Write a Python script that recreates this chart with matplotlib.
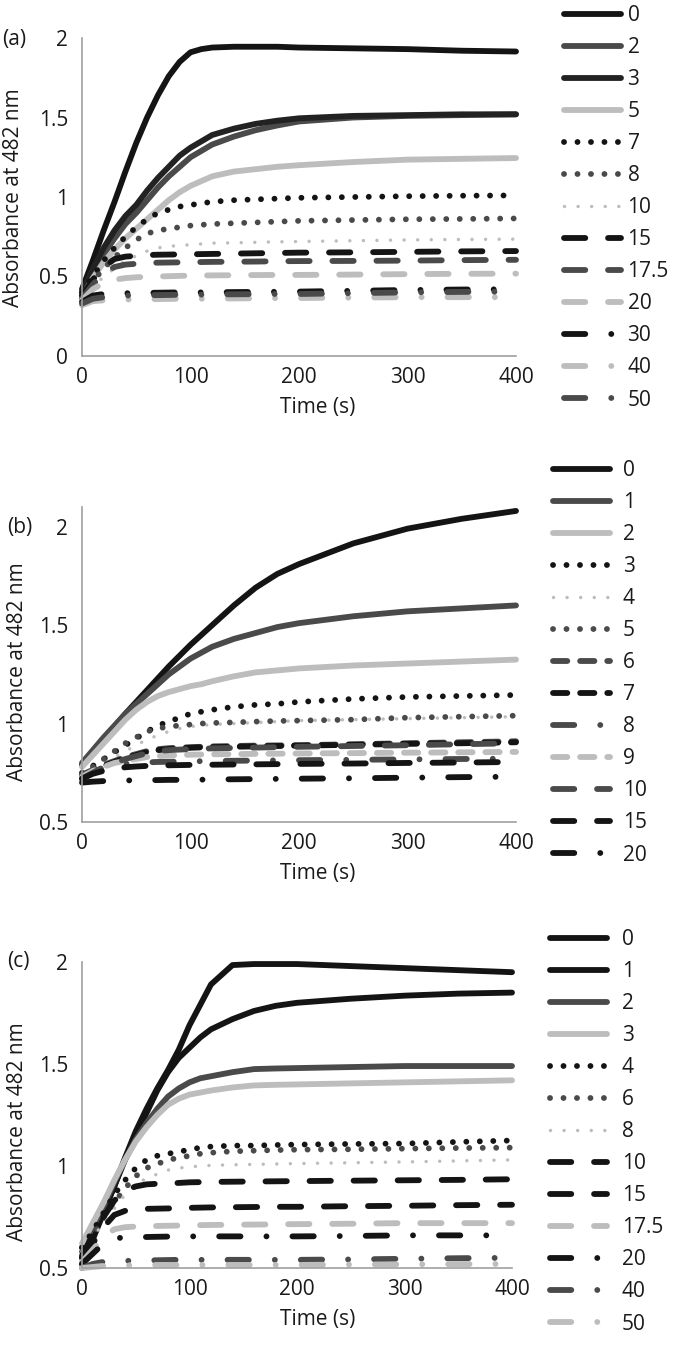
import matplotlib
matplotlib.use('Agg')
import matplotlib.pyplot as plt

plt.rcParams['font.family'] = ['Open Sans', 'DejaVu Sans']

# ---------------- data ----------------
time_s = [0, 10, 20, 30, 40, 50, 60, 70, 80, 90, 100, 110, 120, 140, 160, 180, 200, 250, 300, 350, 400]

# panel (a)
labels_a = ['0', '2', '3', '5', '7', '8', '10', '15', '17.5', '20', '30', '40', '50']
a_0 = [0.42, 0.60, 0.79, 0.97, 1.16, 1.34, 1.50, 1.64, 1.76, 1.85, 1.91, 1.93, 1.94, 1.945, 1.945, 1.945, 1.94, 1.935, 1.93, 1.92, 1.915]
a_2 = [0.38, 0.52, 0.64, 0.74, 0.83, 0.90, 0.98, 1.06, 1.13, 1.19, 1.25, 1.29, 1.33, 1.38, 1.42, 1.45, 1.475, 1.50, 1.51, 1.515, 1.52]
a_3 = [0.40, 0.55, 0.68, 0.79, 0.88, 0.95, 1.04, 1.12, 1.19, 1.26, 1.31, 1.35, 1.39, 1.43, 1.46, 1.48, 1.495, 1.51, 1.515, 1.52, 1.52]
a_5 = [0.37, 0.49, 0.59, 0.67, 0.74, 0.80, 0.86, 0.92, 0.98, 1.03, 1.07, 1.10, 1.13, 1.16, 1.175, 1.19, 1.20, 1.22, 1.235, 1.24, 1.245]
a_7 = [0.40, 0.50, 0.60, 0.68, 0.75, 0.81, 0.86, 0.90, 0.92, 0.94, 0.95, 0.96, 0.97, 0.98, 0.985, 0.99, 0.995, 1.0, 1.005, 1.008, 1.01]
a_8 = [0.38, 0.47, 0.55, 0.62, 0.68, 0.73, 0.77, 0.79, 0.80, 0.81, 0.82, 0.825, 0.83, 0.835, 0.84, 0.845, 0.85, 0.855, 0.86, 0.862, 0.865]
a_10 = [0.36, 0.43, 0.50, 0.55, 0.60, 0.63, 0.66, 0.68, 0.69, 0.695, 0.70, 0.705, 0.71, 0.712, 0.715, 0.718, 0.72, 0.725, 0.73, 0.733, 0.735]
a_15 = [0.38, 0.48, 0.56, 0.61, 0.625, 0.63, 0.635, 0.637, 0.638, 0.639, 0.64, 0.641, 0.642, 0.644, 0.646, 0.648, 0.65, 0.652, 0.655, 0.658, 0.66]
a_17_5 = [0.36, 0.45, 0.52, 0.56, 0.575, 0.58, 0.585, 0.587, 0.588, 0.589, 0.59, 0.591, 0.592, 0.593, 0.594, 0.596, 0.597, 0.598, 0.60, 0.603, 0.605]
a_20 = [0.35, 0.42, 0.46, 0.48, 0.49, 0.495, 0.498, 0.50, 0.502, 0.504, 0.505, 0.506, 0.507, 0.508, 0.509, 0.51, 0.51, 0.512, 0.515, 0.517, 0.518]
a_30 = [0.34, 0.38, 0.39, 0.393, 0.395, 0.396, 0.397, 0.398, 0.399, 0.40, 0.40, 0.40, 0.401, 0.402, 0.403, 0.404, 0.405, 0.41, 0.415, 0.418, 0.42]
a_40 = [0.32, 0.345, 0.35, 0.352, 0.355, 0.356, 0.357, 0.358, 0.359, 0.36, 0.36, 0.36, 0.361, 0.362, 0.363, 0.364, 0.365, 0.367, 0.37, 0.37, 0.37]
a_50 = [0.33, 0.36, 0.37, 0.375, 0.38, 0.381, 0.382, 0.383, 0.384, 0.385, 0.385, 0.386, 0.387, 0.388, 0.389, 0.39, 0.39, 0.395, 0.40, 0.403, 0.405]

# panel (b)
labels_b = ['0', '1', '2', '3', '4', '5', '6', '7', '8', '9', '10', '15', '20']
b_0 = [0.79, 0.855, 0.92, 0.985, 1.05, 1.11, 1.17, 1.23, 1.29, 1.345, 1.40, 1.45, 1.50, 1.60, 1.69, 1.76, 1.81, 1.915, 1.99, 2.04, 2.08]
b_1 = [0.80, 0.865, 0.93, 0.99, 1.05, 1.10, 1.15, 1.20, 1.25, 1.29, 1.33, 1.36, 1.39, 1.43, 1.46, 1.49, 1.51, 1.545, 1.57, 1.585, 1.60]
b_2 = [0.78, 0.84, 0.90, 0.96, 1.02, 1.07, 1.11, 1.14, 1.16, 1.175, 1.19, 1.20, 1.215, 1.24, 1.26, 1.27, 1.28, 1.295, 1.305, 1.315, 1.325]
b_3 = [0.75, 0.785, 0.82, 0.855, 0.89, 0.925, 0.96, 0.99, 1.01, 1.03, 1.05, 1.06, 1.07, 1.085, 1.095, 1.10, 1.11, 1.125, 1.135, 1.14, 1.145]
b_4 = [0.74, 0.77, 0.80, 0.83, 0.86, 0.89, 0.92, 0.94, 0.96, 0.975, 0.985, 0.99, 0.995, 1.00, 1.005, 1.01, 1.015, 1.02, 1.025, 1.03, 1.035]
b_5 = [0.74, 0.78, 0.82, 0.86, 0.90, 0.93, 0.96, 0.975, 0.985, 0.99, 0.995, 1.0, 1.003, 1.006, 1.01, 1.013, 1.015, 1.02, 1.03, 1.035, 1.04]
b_6 = [0.74, 0.765, 0.79, 0.81, 0.83, 0.845, 0.86, 0.87, 0.875, 0.878, 0.88, 0.882, 0.884, 0.886, 0.888, 0.889, 0.89, 0.895, 0.90, 0.905, 0.91]
b_7 = [0.73, 0.76, 0.785, 0.805, 0.825, 0.84, 0.855, 0.865, 0.87, 0.874, 0.877, 0.879, 0.88, 0.882, 0.884, 0.886, 0.888, 0.892, 0.897, 0.90, 0.905]
b_8 = [0.72, 0.75, 0.77, 0.785, 0.795, 0.80, 0.803, 0.805, 0.806, 0.807, 0.808, 0.809, 0.81, 0.811, 0.812, 0.813, 0.814, 0.816, 0.818, 0.82, 0.822]
b_9 = [0.73, 0.76, 0.78, 0.80, 0.81, 0.82, 0.83, 0.835, 0.838, 0.84, 0.842, 0.843, 0.844, 0.845, 0.846, 0.847, 0.848, 0.85, 0.852, 0.854, 0.856]
b_10 = [0.72, 0.75, 0.78, 0.80, 0.82, 0.835, 0.85, 0.86, 0.865, 0.868, 0.87, 0.872, 0.874, 0.876, 0.878, 0.88, 0.882, 0.886, 0.89, 0.895, 0.90]
b_15 = [0.72, 0.745, 0.76, 0.77, 0.778, 0.782, 0.785, 0.787, 0.788, 0.789, 0.79, 0.79, 0.791, 0.792, 0.793, 0.794, 0.795, 0.797, 0.80, 0.802, 0.805]
b_20 = [0.70, 0.705, 0.708, 0.71, 0.711, 0.712, 0.713, 0.713, 0.714, 0.714, 0.715, 0.715, 0.716, 0.717, 0.718, 0.719, 0.72, 0.722, 0.725, 0.728, 0.73]

# panel (c)
labels_c = ['0', '1', '2', '3', '4', '6', '8', '10', '15', '17.5', '20', '40', '50']
c_0 = [0.52, 0.64, 0.77, 0.90, 1.04, 1.17, 1.28, 1.38, 1.47, 1.57, 1.69, 1.79, 1.89, 1.985, 1.99, 1.99, 1.99, 1.98, 1.97, 1.96, 1.95]
c_1 = [0.55, 0.66, 0.78, 0.90, 1.03, 1.15, 1.26, 1.37, 1.46, 1.53, 1.58, 1.63, 1.67, 1.72, 1.76, 1.785, 1.80, 1.82, 1.835, 1.845, 1.85]
c_2 = [0.60, 0.70, 0.80, 0.92, 1.03, 1.13, 1.21, 1.28, 1.34, 1.38, 1.41, 1.43, 1.44, 1.46, 1.475, 1.478, 1.48, 1.485, 1.49, 1.49, 1.49]
c_3 = [0.62, 0.72, 0.82, 0.93, 1.03, 1.12, 1.19, 1.25, 1.30, 1.33, 1.35, 1.36, 1.37, 1.385, 1.395, 1.398, 1.40, 1.405, 1.41, 1.415, 1.42]
c_4 = [0.60, 0.68, 0.77, 0.86, 0.93, 0.99, 1.03, 1.05, 1.06, 1.07, 1.08, 1.09, 1.095, 1.10, 1.10, 1.103, 1.105, 1.108, 1.11, 1.118, 1.125]
c_6 = [0.58, 0.66, 0.74, 0.82, 0.89, 0.95, 0.99, 1.01, 1.03, 1.04, 1.05, 1.06, 1.065, 1.072, 1.075, 1.078, 1.08, 1.082, 1.085, 1.088, 1.09]
c_8 = [0.58, 0.65, 0.72, 0.79, 0.86, 0.91, 0.94, 0.96, 0.98, 0.99, 0.995, 1.0, 1.003, 1.006, 1.008, 1.01, 1.012, 1.016, 1.02, 1.025, 1.03]
c_10 = [0.56, 0.66, 0.75, 0.83, 0.88, 0.90, 0.91, 0.913, 0.915, 0.917, 0.92, 0.921, 0.922, 0.923, 0.924, 0.925, 0.926, 0.928, 0.93, 0.932, 0.935]
c_15 = [0.55, 0.62, 0.70, 0.76, 0.78, 0.785, 0.79, 0.791, 0.792, 0.793, 0.795, 0.796, 0.797, 0.798, 0.799, 0.80, 0.80, 0.803, 0.805, 0.808, 0.81]
c_17_5 = [0.53, 0.59, 0.65, 0.69, 0.70, 0.703, 0.705, 0.706, 0.707, 0.708, 0.71, 0.71, 0.711, 0.712, 0.713, 0.714, 0.715, 0.717, 0.72, 0.72, 0.72]
c_20 = [0.52, 0.57, 0.62, 0.645, 0.65, 0.651, 0.652, 0.653, 0.654, 0.654, 0.655, 0.655, 0.655, 0.655, 0.655, 0.655, 0.655, 0.657, 0.66, 0.66, 0.66]
c_40 = [0.50, 0.52, 0.53, 0.533, 0.535, 0.536, 0.537, 0.538, 0.539, 0.54, 0.54, 0.54, 0.54, 0.54, 0.54, 0.54, 0.54, 0.542, 0.545, 0.548, 0.55]
c_50 = [0.50, 0.505, 0.51, 0.512, 0.513, 0.514, 0.514, 0.515, 0.515, 0.515, 0.515, 0.515, 0.515, 0.515, 0.515, 0.515, 0.515, 0.517, 0.518, 0.519, 0.52]

series_a = [a_0, a_2, a_3, a_5, a_7, a_8, a_10, a_15, a_17_5, a_20, a_30, a_40, a_50]
series_b = [b_0, b_1, b_2, b_3, b_4, b_5, b_6, b_7, b_8, b_9, b_10, b_15, b_20]
series_c = [c_0, c_1, c_2, c_3, c_4, c_6, c_8, c_10, c_15, c_17_5, c_20, c_40, c_50]

# ---------------- styles ----------------
K, D, L = '#141414', '#4a4a4a', '#bdbdbd'
LW = 4.2
styles = {
    'solid': dict(linestyle='-', lw=LW),
    'dot': dict(linestyle=(0, (0.01, 2.3)), lw=LW),
    'sdot': dict(linestyle=(0, (0.01, 3.9)), lw=2.5),
    'dash': dict(linestyle=(0, (2.45, 2.2)), lw=LW),
    'lgdash': dict(linestyle=(0, (3.65, 3.9)), lw=LW),
    'lgdashdot': dict(linestyle=(0, (3.65, 4.45, 0.01, 4.45)), lw=LW),
}
style_a = [('solid', K), ('solid', D), ('solid', '#222222'), ('solid', L), ('dot', K), ('dot', D), ('sdot', L),
           ('lgdash', K), ('lgdash', D), ('lgdash', L), ('lgdashdot', K), ('lgdashdot', L), ('lgdashdot', D)]
style_b = [('solid', K), ('solid', D), ('solid', L), ('dot', K), ('sdot', L), ('dot', D), ('dash', D),
           ('dash', K), ('lgdashdot', D), ('dash', L), ('lgdash', D), ('lgdash', K), ('lgdashdot', K)]
style_c = [('solid', K), ('solid', K), ('solid', D), ('solid', L), ('dot', K), ('dot', D), ('sdot', L),
           ('lgdash', K), ('lgdash', K), ('lgdash', L), ('lgdashdot', K), ('lgdashdot', D), ('lgdashdot', L)]

W, H = 675, 1347
FS = 15
TXT = '#1a1a1a'
fig = plt.figure(figsize=(W / 100, H / 100), dpi=100)


def rect(left, top, right, bottom):
    return [left / W, 1 - bottom / H, (right - left) / W, (bottom - top) / H]


panels = [
    dict(r=rect(82, 38, 516, 356), ylim=(0, 2), yt=[0, 0.5, 1, 1.5, 2], ytl=['0', '0.5', '1', '1.5', '2'],
         series=series_a, labels=labels_a, styles=style_a, tag='(a)', tagxy=(2, 39),
         ylab=(14, 198), xlab=(318, 407), leg=(564, 5, 0.3)),
    dict(r=rect(82, 507, 516, 822), ylim=(0.5, 2.1), yt=[0.5, 1, 1.5, 2], ytl=['0.5', '1', '1.5', '2'],
         series=series_b, labels=labels_b, styles=style_b, tag='(b)', tagxy=(7, 527),
         ylab=(18, 672), xlab=(318, 874), leg=(553, 460, 0.6)),
    dict(r=rect(82, 962, 512, 1268), ylim=(0.5, 2.0), yt=[0.5, 1, 1.5, 2], ytl=['0.5', '1', '1.5', '2'],
         series=series_c, labels=labels_c, styles=style_c, tag='(c)', tagxy=(7, 962),
         ylab=(18, 1132), xlab=(318, 1319), leg=(550, 929, 0.7)),
]

for p in panels:
    ax = fig.add_axes(p['r'])
    for vals, lab, (st, col) in zip(p['series'], p['labels'], p['styles']):
        kw = styles[st]
        ax.plot(time_s, vals, color=col, label=lab, linestyle=kw['linestyle'], lw=kw['lw'],
                dash_capstyle='round', solid_capstyle='round', clip_on=False)
    ax.set_xlim(0, 400)
    ax.set_ylim(*p['ylim'])
    ax.set_xticks([0, 100, 200, 300, 400])
    ax.set_xticklabels(['0', '100', '200', '300', '400'])
    ax.set_yticks(p['yt'])
    ax.set_yticklabels(p['ytl'])
    ax.tick_params(axis='both', length=0, labelsize=FS, labelcolor=TXT)
    ax.tick_params(axis='y', pad=10)
    ax.tick_params(axis='x', pad=8)
    for s in ('top', 'right'):
        ax.spines[s].set_visible(False)
    for s in ('left', 'bottom'):
        ax.spines[s].set_color('#a0a0a0')
        ax.spines[s].set_linewidth(1.2)
    ax.set_ylabel('Absorbance at 482 nm', fontsize=FS, color=TXT, ha='center', va='center')
    ax.yaxis.set_label_coords(p['ylab'][0] / W, 1 - p['ylab'][1] / H, transform=fig.transFigure)
    ax.set_xlabel('Time (s)', fontsize=FS, color=TXT, ha='center', va='center')
    ax.xaxis.set_label_coords(p['xlab'][0] / W, 1 - p['xlab'][1] / H, transform=fig.transFigure)
    fig.text(p['tagxy'][0] / W, 1 - p['tagxy'][1] / H, p['tag'], fontsize=FS, color=TXT, ha='left', va='center')
    lx, ly, pad = p['leg']
    ax.legend(loc='upper left', bbox_to_anchor=(lx / W, 1 - ly / H), bbox_transform=fig.transFigure,
              frameon=False, borderpad=0, borderaxespad=0, handlelength=2.75, handletextpad=pad,
              labelspacing=0.53, fontsize=FS, labelcolor=TXT)

fig.savefig('out.png', dpi=100)
